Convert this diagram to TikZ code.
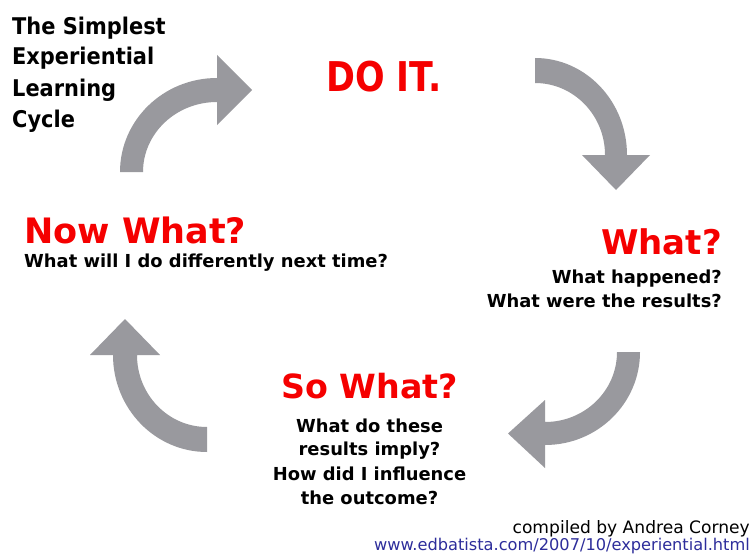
\documentclass[tikz,border=0pt]{standalone}
\usepackage{fontspec}
\setmainfont{DejaVu Sans}
\newfontfamily\titlefont[FakeStretch=0.91]{DejaVu Sans}
\newfontfamily\doitfont[FakeStretch=0.85]{DejaVu Sans}
\definecolor{arrowgray}{RGB}{153,153,158}
\definecolor{headred}{RGB}{245,0,0}
\definecolor{urlblue}{RGB}{45,45,155}
\begin{document}
\begin{tikzpicture}[x=1pt,y=-1pt,
  heading/.style={text=headred, inner sep=0pt, font=\fontsize{35}{35}\selectfont\bfseries},
  body/.style={inner sep=0pt, font=\fontsize{17.9}{17.9}\selectfont\bfseries},
  titletext/.style={inner sep=0pt, anchor=base west, font=\titlefont\fontsize{23}{23}\selectfont\bfseries},
  credit/.style={inner sep=0pt, anchor=base east, font=\fontsize{17.1}{17.1}\selectfont},
  cyclearrow/.style={fill=arrowgray, draw=none}]
\useasboundingbox (0,0) rectangle (751,559);
\fill[white] (0,0) rectangle (751,559);

% title
\node[titletext] (t1) at (12,35) {The Simplest};
\node[titletext] (t2) at (12,65) {Experiential};
\node[titletext] (t3) at (12,96) {Learning};
\node[titletext] (t4) at (12,127) {Cycle};

% arrows
\path[cyclearrow] (120,172) .. controls (120,120.1) and (163.4,78) .. (217,78)
  -- (217,55) -- (252,90) -- (217,125) -- (217,102)
  .. controls (176.1,102) and (143,133.3) .. (143,172) -- cycle;
\path[cyclearrow] (535,58) .. controls (585.8,58) and (627,101.4) .. (627,155)
  -- (650,155) -- (616,190) -- (582,155) -- (605,155)
  .. controls (605,115.2) and (573.7,83) .. (535,83) -- cycle;
\path[cyclearrow] (640,352) .. controls (640,403.4) and (597.5,445) .. (545,445)
  -- (545,468) -- (508,433.5) -- (545,400) -- (545,422)
  .. controls (584.8,422) and (617,390.7) .. (617,352) -- cycle;
\path[cyclearrow] (207,452) .. controls (155.1,452) and (113,408.6) .. (113,355)
  -- (90,355) -- (125,319) -- (160,355) -- (137,355)
  .. controls (137,394.8) and (168.3,427) .. (207,427) -- cycle;

% DO IT
\node[inner sep=0pt, anchor=base, text=headred, font=\doitfont\fontsize{41}{41}\selectfont\bfseries] (doit) at (384,92) {DO IT.};

% What?
\node[heading, anchor=base east, font=\fontsize{34}{34}\selectfont\bfseries] (what) at (722,254) {What?};
\node[body, anchor=base east] (what1) at (722,283) {What happened?};
\node[body, anchor=base east] (what2) at (722,307) {What were the results?};

% So What?
\node[heading, anchor=base, font=\fontsize{33.3}{33.3}\selectfont\bfseries] (sowhat) at (369.5,398) {So What?};
\node[body, anchor=base] (so1) at (369.5,432) {What do these};
\node[body, anchor=base] (so2) at (369.5,455) {results imply?};
\node[body, anchor=base] (so3) at (369.5,480) {How did I influence};
\node[body, anchor=base] (so4) at (369.5,504) {the outcome?};

% Now What?
\node[heading, anchor=base west] (nowwhat) at (24,243) {Now What?};
\node[body, anchor=base west] (now1) at (24,267) {What will I do differently next time?};

% credits
\node[credit] (comp) at (750,533) {compiled by Andrea Corney};
\node[credit, text=urlblue, font=\fontsize{16.2}{16.2}\selectfont] (url) at (750,550) {www.edbatista.com/2007/10/experiential.html};
\end{tikzpicture}
\end{document}
